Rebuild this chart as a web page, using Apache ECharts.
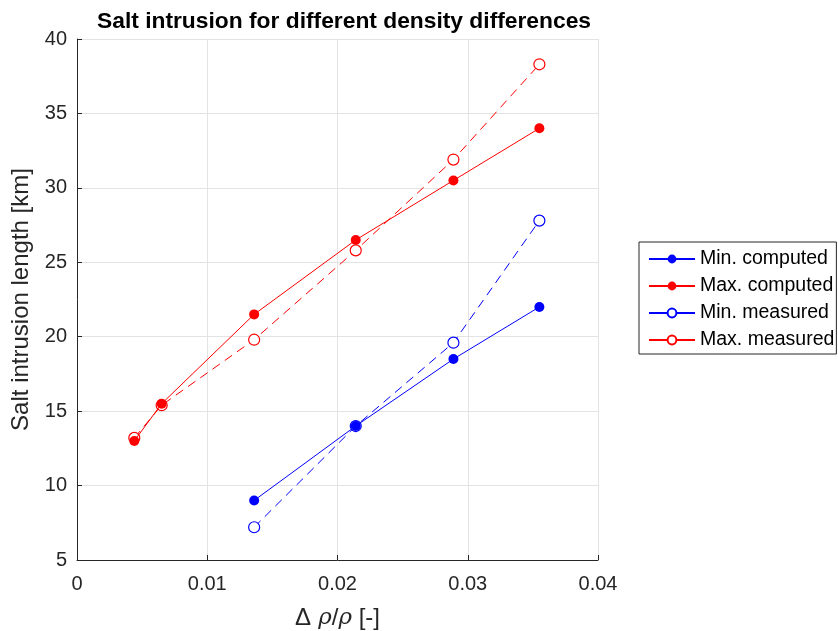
<!DOCTYPE html>
<html>
<head>
<meta charset="utf-8">
<script src="https://cdn.jsdelivr.net/npm/echarts@6/dist/echarts.min.js"></script>
<style>
  html, body { margin: 0; padding: 0; background: #fff; }
  #chart { width: 838px; height: 631px; }
</style>
</head>
<body>
<div id="chart"></div>
<script>
// Relative density difference for each run
const densityDiff = [0.0044, 0.0065, 0.0136, 0.0214, 0.0289, 0.0355];
const densityDiffMin = [0.0136, 0.0214, 0.0289, 0.0355];

// Salt intrusion lengths [km]
const minComputed = [9.0, 14.0, 18.5, 22.0];
const maxComputed = [13.0, 15.5, 21.5, 26.5, 30.5, 34.0];
const minMeasured = [7.2, 14.0, 19.6, 27.8];
const maxMeasured = [13.2, 15.4, 19.8, 25.8, 31.9, 38.3];

const seriesNames = ['Min. computed', 'Max. computed', 'Min. measured', 'Max. measured'];

const FONT = 'Liberation Sans, Arial, Helvetica, sans-serif';
const TXT = '#262626';
const BLUE = '#0000ff';
const RED = '#ff0000';

function pairs(xs, ys) { return xs.map((x, i) => [x, ys[i]]); }

function makeSeries(name, xs, ys, color, filled, dashed) {
  return {
    name: name,
    type: 'line',
    data: pairs(xs, ys),
    symbol: 'circle',
    symbolSize: filled ? 10 : 11,
    showSymbol: true,
    lineStyle: { color: color, width: 1, type: dashed ? [9, 6] : 'solid' },
    itemStyle: {
      color: filled ? color : '#ffffff',
      borderColor: color,
      borderWidth: filled ? 0 : 1.2
    },
    emphasis: { disabled: true },
    animation: false,
    z: filled ? 3 : 2
  };
}

const chart = echarts.init(document.getElementById('chart'), null, { renderer: 'canvas' });
chart.setOption({
  backgroundColor: '#ffffff',
  animation: false,
  textStyle: { fontFamily: FONT },
  title: {
    text: 'Salt intrusion for different density differences',
    left: 339, top: 5, textAlign: 'center',
    textStyle: { fontFamily: FONT, fontSize: 22.8, fontWeight: 'bold', color: '#000' }
  },
  // fixed plot box; labels and names sit outside it
  grid: { left: 77, right: 240, top: 39, bottom: 71, containLabel: false, outerBoundsMode: 'none' },
  legend: {
    orient: 'vertical',
    left: 639, top: 242,
    itemWidth: 46, itemHeight: 11, itemGap: 7,
    padding: [7, 2, 4, 9],
    backgroundColor: '#fff',
    borderColor: TXT, borderWidth: 1, borderRadius: 0,
    lineStyle: { type: 'solid' },
    textStyle: { fontFamily: FONT, fontSize: 19.5, color: '#000' },
    data: seriesNames
  },
  xAxis: {
    type: 'value', min: 0, max: 0.04, interval: 0.01,
    name: '{d|Δ}{r| ρ}{s|/}{r|ρ}{s| [-]}',
    nameLocation: 'middle', nameGap: 46,
    nameTextStyle: {
      rich: {
        d: { fontFamily: FONT, fontSize: 24, color: TXT },
        r: { fontFamily: 'DejaVu Serif, serif', fontStyle: 'italic', fontSize: 23, color: TXT },
        s: { fontFamily: FONT, fontSize: 24, color: TXT }
      }
    },
    axisLine: { show: true, onZero: false, lineStyle: { color: TXT, width: 1 } },
    axisTick: { show: true, inside: true, length: 5, lineStyle: { color: TXT } },
    axisLabel: {
      fontFamily: FONT, fontSize: 20, color: TXT, margin: 14,
      formatter: v => String(parseFloat(v.toFixed(2)))
    },
    splitLine: { show: true, lineStyle: { color: '#e3e3e3', width: 1 } }
  },
  yAxis: {
    type: 'value', min: 5, max: 40, interval: 5,
    name: 'Salt intrusion length [km]',
    nameLocation: 'middle', nameGap: 43,
    nameTextStyle: { fontFamily: FONT, fontSize: 24, color: TXT },
    axisLine: { show: true, onZero: false, lineStyle: { color: TXT, width: 1 } },
    axisTick: { show: true, inside: true, length: 5, lineStyle: { color: TXT } },
    axisLabel: { fontFamily: FONT, fontSize: 20, color: TXT, margin: 10 },
    splitLine: { show: true, lineStyle: { color: '#e3e3e3', width: 1 } }
  },
  series: [
    makeSeries(seriesNames[0], densityDiffMin, minComputed, BLUE, true, false),
    makeSeries(seriesNames[1], densityDiff, maxComputed, RED, true, false),
    makeSeries(seriesNames[2], densityDiffMin, minMeasured, BLUE, false, true),
    makeSeries(seriesNames[3], densityDiff, maxMeasured, RED, false, true)
  ]
});
</script>
</body>
</html>
